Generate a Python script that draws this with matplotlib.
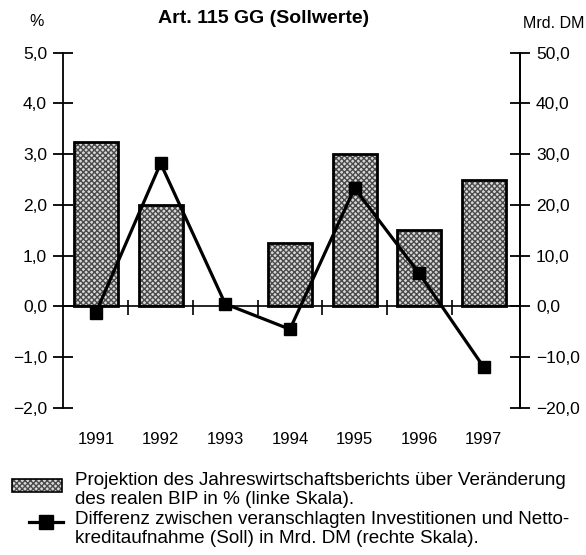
import matplotlib.pyplot as plt
from matplotlib.patches import Rectangle
from matplotlib.lines import Line2D

plt.rcParams['font.family'] = ['Liberation Sans', 'DejaVu Sans']

years = ['1991', '1992', '1993', '1994', '1995', '1996', '1997']
bip = [3.25, 2.0, 0.0, 1.25, 3.0, 1.5, 2.5]          # % (linke Skala)
differenz = [-1.2, 28.2, 0.5, -4.5, 23.3, 6.5, -12.0]  # Mrd. DM (rechte Skala)
left_ticks = [-2, -1, 0, 1, 2, 3, 4, 5]
left_labels = ['\u22122,0', '\u22121,0', '0,0', '1,0', '2,0', '3,0', '4,0', '5,0']
right_ticks = [-20, -10, 0, 10, 20, 30, 40, 50]
right_labels = ['\u221220,0', '\u221210,0', '0,0', '10,0', '20,0', '30,0', '40,0', '50,0']

fig = plt.figure(figsize=(5.86, 5.55), dpi=100)
ax = fig.add_axes([0.1075, 0.265, 0.78, 0.64])
x = list(range(len(years)))

fill = ax.bar(x, bip, width=0.68, color='#d8d8d8', hatch='xxxxxx', edgecolor='#4a4a4a',
              linewidth=0, zorder=2)
outline = ax.bar(x, bip, width=0.68, fill=False, edgecolor='black', linewidth=2, zorder=3)
for p in list(fill) + list(outline):
    if p.get_height() == 0:
        p.set_visible(False)
ax.axhline(0, color='black', linewidth=1.2, zorder=4)
ax.vlines([i + 0.5 for i in x[:-1]], -0.17, 0.13, color='black', linewidth=1.2, zorder=4)

ax.set_xlim(-0.51, 6.56)
ax.set_ylim(-2, 5)
ax.set_yticks(left_ticks, left_labels)
ax.set_xticks(x, years)
ax.tick_params(axis='x', length=0, pad=17, labelsize=12)
ax.tick_params(axis='y', direction='inout', length=15, width=1.3, labelsize=12.5, pad=4)
for s in ['top', 'bottom']:
    ax.spines[s].set_visible(False)
ax.spines['left'].set_linewidth(1.3)
ax.spines['right'].set_linewidth(1.3)

ax2 = ax.twinx()
ax2.plot(x, differenz, color='black', linewidth=2.3, marker='s', markersize=9, zorder=5)
ax2.set_ylim(-20, 50)
ax2.set_yticks(right_ticks, right_labels)
ax2.tick_params(axis='y', direction='inout', length=15, width=1.3, labelsize=12.5, pad=4)
for s in ['top', 'bottom', 'left']:
    ax2.spines[s].set_visible(False)
ax2.spines['right'].set_linewidth(1.3)

fig.text(0.45, 0.967, 'Art. 115 GG (Sollwerte)', ha='center', va='center',
         fontsize=14, fontweight='bold')
fig.text(0.062, 0.962, '%', ha='center', va='center', fontsize=11.5)
fig.text(0.997, 0.958, 'Mrd. DM', ha='right', va='center', fontsize=11.5)

# legend
fig.patches.append(Rectangle((0.02, 0.113), 0.086, 0.024, transform=fig.transFigure,
                             facecolor='#d8d8d8', hatch='xxxxxx', edgecolor='#4a4a4a',
                             linewidth=0))
fig.patches.append(Rectangle((0.02, 0.113), 0.086, 0.024, transform=fig.transFigure,
                             fill=False, edgecolor='black', linewidth=1.2))
fig.lines.append(Line2D([0.05, 0.108], [0.059, 0.059], transform=fig.transFigure,
                        color='black', linewidth=2.3))
fig.lines.append(Line2D([0.078], [0.059], transform=fig.transFigure,
                        color='black', marker='s', markersize=10))
fig.text(0.128, 0.15, 'Projektion des Jahreswirtschaftsberichts über Veränderung\n'
         'des realen BIP in % (linke Skala).', fontsize=13.6, linespacing=1.15, va='top')
fig.text(0.128, 0.079, 'Differenz zwischen veranschlagten Investitionen und Netto-\n'
         'kreditaufnahme (Soll) in Mrd. DM (rechte Skala).', fontsize=13.6,
         linespacing=1.15, va='top')

fig.savefig('out.png', dpi=100)
